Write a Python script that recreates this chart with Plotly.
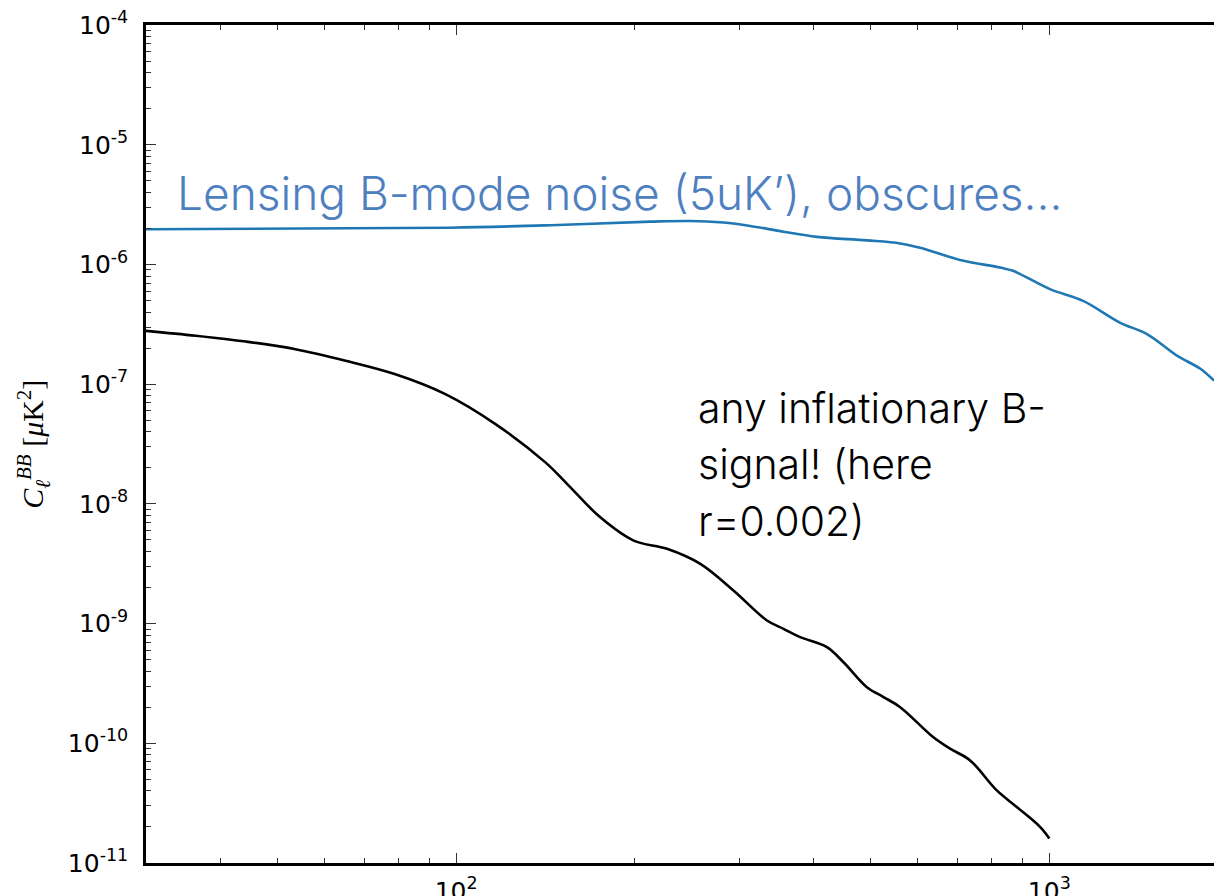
import plotly.graph_objects as go
import math

# Multipole values and spectra
ell_lens = [30.0, 54.6, 97.8, 144.2, 212.5, 248.1, 282.0, 313.2, 355.9, 405.7,
            492.5, 560.5, 605.6, 707.4, 826.0, 868.6, 1002.7, 1140.0, 1315.0,
            1461.0, 1641.0, 1795.0, 1895.0]
cl_lens = [1.97e-6, 2.00e-6, 2.03e-6, 2.13e-6, 2.28e-6, 2.31e-6, 2.24e-6, 2.10e-6,
           1.88e-6, 1.70e-6, 1.59e-6, 1.50e-6, 1.38e-6, 1.09e-6, 9.42e-7, 8.85e-7,
           6.22e-7, 4.97e-7, 3.27e-7, 2.62e-7, 1.73e-7, 1.35e-7, 1.07e-7]

ell_prim = [30.0, 36.4, 44.2, 53.6, 65.1, 79.0, 95.9, 116.5, 141.4, 153.8,
            175.0, 199.2, 226.7, 258.0, 293.7, 334.2, 356.4, 380.2, 421.7, 449.8,
            492.5, 525.4, 560.5, 637.7, 680.2, 735.3, 815.6, 881.3, 964.5, 1000.0]
cl_prim = [2.79e-7, 2.54e-7, 2.27e-7, 1.96e-7, 1.57e-7, 1.21e-7, 8.26e-8, 4.64e-8,
           2.22e-8, 1.47e-8, 7.71e-9, 4.93e-9, 4.21e-9, 3.15e-9, 1.88e-9,
           1.06e-9, 9.03e-10, 7.69e-10, 6.34e-10, 4.75e-10, 2.94e-10, 2.43e-10,
           2.00e-10, 1.12e-10, 9.0e-11, 7.18e-11, 4.03e-11, 2.93e-11, 2.0e-11, 1.60e-11]

y_exponents = [-11, -10, -9, -8, -7, -6, -5, -4]
x_exponents = [2, 3]

lens_label = "Lensing B-mode noise (5uK\u2019), obscures\u2026"
prim_label_lines = ["any inflationary B-", "signal! (here", "r=0.002)"]

fig = go.Figure()
fig.add_trace(go.Scatter(x=ell_lens, y=cl_lens, mode="lines",
                         line=dict(color="#1f77b4", width=2.6, shape="spline", smoothing=1.0),
                         showlegend=False))
fig.add_trace(go.Scatter(x=ell_prim, y=cl_prim, mode="lines",
                         line=dict(color="#000000", width=2.6, shape="spline", smoothing=1.0),
                         showlegend=False))

y_minor = [m * 10.0 ** e for e in range(-11, -4) for m in range(2, 10)]
x_minor = [m * 10.0 ** e for e in (1, 2, 3) for m in range(2, 10)]
x_minor = [v for v in x_minor if 30 <= v <= 1900]

tick_font = dict(family="DejaVu Sans", size=25, color="#000000")

fig.update_xaxes(type="log", range=[math.log10(30), math.log10(1895)],
                 tickvals=[10 ** e for e in x_exponents],
                 ticktext=["10<sup>%d</sup>" % e for e in x_exponents],
                 ticks="inside", ticklen=10, tickwidth=1, tickcolor="#333333",
                 minor=dict(tickvals=x_minor, ticks="inside", ticklen=5, tickwidth=1,
                            tickcolor="#333333", showgrid=False),
                 showline=True, linecolor="#000000", linewidth=2.5, mirror="ticks",
                 showgrid=False, zeroline=False, tickfont=tick_font,
                 ticklabelstandoff=4, automargin=False)
fig.update_yaxes(type="log", range=[-11.001, -3.999],
                 tickvals=[10.0 ** e for e in y_exponents],
                 ticktext=["10<sup>%d</sup>" % e for e in y_exponents],
                 ticks="inside", ticklen=10, tickwidth=1, tickcolor="#333333",
                 minor=dict(tickvals=y_minor, ticks="inside", ticklen=5, tickwidth=1,
                            tickcolor="#333333", showgrid=False),
                 showline=True, linecolor="#000000", linewidth=2.5, mirror=False,
                 showgrid=False, zeroline=False, tickfont=tick_font,
                 ticklabelstandoff=10, automargin=False)

annotations = [
    dict(text=lens_label, xref="paper", yref="paper", x=0.027, y=0.80,
         xanchor="left", yanchor="middle", showarrow=False,
         font=dict(family="Inter", weight=300, size=46, color="#4e80c0")),
    dict(text="<i>C</i><sub><i>\u2113</i></sub><sup><i>BB</i></sup> [<i>\u03bc</i>K<sup>2</sup>]",
         xref="paper", yref="paper", x=-0.106, y=0.50, xanchor="center", yanchor="middle",
         textangle=-90, showarrow=False,
         font=dict(family="Liberation Serif", size=30, color="#000000")),
]
line_y = [0.543, 0.476, 0.408]
for txt, yy in zip(prim_label_lines, line_y):
    annotations.append(dict(text=txt, xref="paper", yref="paper", x=0.515, y=yy,
                            xanchor="left", yanchor="middle", showarrow=False,
                            font=dict(family="Inter", weight=300, size=41, color="#000000")))

fig.update_layout(width=1214, height=896,
                  margin=dict(l=146, r=0, t=25, b=33),
                  plot_bgcolor="white", paper_bgcolor="white",
                  annotations=annotations)

fig.write_html("out.html")
